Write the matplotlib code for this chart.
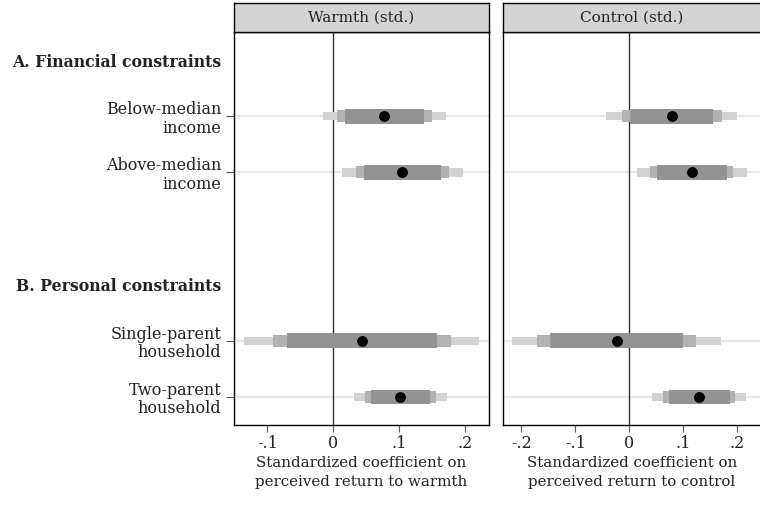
import numpy as np
import matplotlib
matplotlib.use("Agg")
import matplotlib.pyplot as plt

plt.rcParams['font.family'] = ['DejaVu Serif']
plt.rcParams['font.size'] = 10

# --- Data
row_labels = ["Below-median\nincome", "Above-median\nincome",
              "Single-parent\nhousehold", "Two-parent\nhousehold"]
row_pos = [1, 2, 5, 6]
headers = ["A. Financial constraints", "B. Personal constraints"]
header_pos = [0, 4]

panel_titles = ["Warmth (std.)", "Control (std.)"]
xlabels = ["Standardized coefficient on\nperceived return to warmth",
           "Standardized coefficient on\nperceived return to control"]

# warmth
warm_coef = [0.077, 0.1045, 0.043, 0.1015]
warm_dark_lo = [0.018, 0.046, -0.070, 0.057]
warm_dark_hi = [0.138, 0.163, 0.157, 0.147]
warm_mid_lo = [0.006, 0.035, -0.092, 0.048]
warm_mid_hi = [0.149, 0.175, 0.178, 0.156]
warm_lt_lo = [-0.016, 0.013, -0.135, 0.032]
warm_lt_hi = [0.171, 0.197, 0.221, 0.172]

# control
ctrl_coef = [0.0785, 0.1155, -0.0234, 0.1296]
ctrl_dark_lo = [0.001, 0.051, -0.146, 0.074]
ctrl_dark_hi = [0.156, 0.181, 0.100, 0.186]
ctrl_mid_lo = [-0.014, 0.038, -0.170, 0.063]
ctrl_mid_hi = [0.171, 0.193, 0.1235, 0.196]
ctrl_lt_lo = [-0.043, 0.0137, -0.2166, 0.042]
ctrl_lt_hi = [0.200, 0.218, 0.170, 0.2167]

xticks_warm = [-0.1, 0, 0.1, 0.2]
xticks_ctrl = [-0.2, -0.1, 0, 0.1, 0.2]


def fmt(v):
    if v == 0:
        return "0"
    s = f"{v:.1f}"
    return s.replace("0.", ".")


panels = [
    dict(coef=warm_coef, dark=(warm_dark_lo, warm_dark_hi), mid=(warm_mid_lo, warm_mid_hi),
         lt=(warm_lt_lo, warm_lt_hi), xlim=(-0.1505, 0.2355), xticks=xticks_warm),
    dict(coef=ctrl_coef, dark=(ctrl_dark_lo, ctrl_dark_hi), mid=(ctrl_mid_lo, ctrl_mid_hi),
         lt=(ctrl_lt_lo, ctrl_lt_hi), xlim=(-0.2344, 0.244), xticks=xticks_ctrl),
]

W, H = 760, 505
fig = plt.figure(figsize=(W / 100, H / 100), dpi=100)

boxes = [(234, 488.7), (502.7, 761)]
ax_top, ax_bot = 32, 425
strip_top = 3
txt = "#222222"

for i, (p, (x0, x1)) in enumerate(zip(panels, boxes)):
    ax = fig.add_axes([x0 / W, 1 - ax_bot / H, (x1 - x0) / W, (ax_bot - ax_top) / H])
    strip = fig.add_axes([x0 / W, 1 - ax_top / H, (x1 - x0) / W, (ax_top - strip_top) / H])
    strip.set_facecolor("#d4d4d4")
    strip.set_xticks([])
    strip.set_yticks([])
    for sp in strip.spines.values():
        sp.set_linewidth(1.0)
    strip.text(0.5, 0.5, panel_titles[i], ha="center", va="center",
               transform=strip.transAxes, fontsize=11, color=txt)

    for y in row_pos:
        ax.axhline(y, color="#e6e6e6", lw=1.5, zorder=0)
    ax.axvline(0, color="#333333", lw=1.0, zorder=1)

    for (lo, hi), col, h in [(p["lt"], "#d2d2d2", 0.15),
                             (p["mid"], "#b2b2b2", 0.21),
                             (p["dark"], "#939393", 0.26)]:
        lo = np.array(lo)
        hi = np.array(hi)
        ax.barh(row_pos, hi - lo, left=lo, height=h, color=col, zorder=2)
    ax.plot(p["coef"], row_pos, "o", color="black", ms=6.8, zorder=3)

    ax.set_ylim(6.5, -0.5)
    ax.set_xlim(*p["xlim"])
    ax.set_xticks(p["xticks"])
    ax.set_xticklabels([fmt(v) for v in p["xticks"]], fontsize=11.5, color=txt)
    ax.tick_params(axis="x", length=5, width=0.8, color="#555555", pad=2)
    ax.set_xlabel(xlabels[i], fontsize=10.8, labelpad=3, color=txt, linespacing=1.5)
    for sp in ax.spines.values():
        sp.set_linewidth(1.0)

    if i == 0:
        ax.set_yticks(header_pos + row_pos)
        ax.set_yticklabels(headers + row_labels, fontsize=11.5, ha="right",
                           color=txt, linespacing=1.1)
        ax.tick_params(axis="y", length=6, width=0.8, color="#555555", pad=3)
        ticks = ax.yaxis.get_major_ticks()
        for t, lab in zip(ticks, ax.get_yticklabels()):
            if lab.get_text() in headers:
                t.tick1line.set_visible(False)
                lab.set_fontweight("bold")
                lab.set_fontsize(11.3)
    else:
        ax.set_yticks(row_pos)
        ax.set_yticklabels([])
        ax.tick_params(axis="y", length=0)

fig.savefig("out.png", dpi=100)
